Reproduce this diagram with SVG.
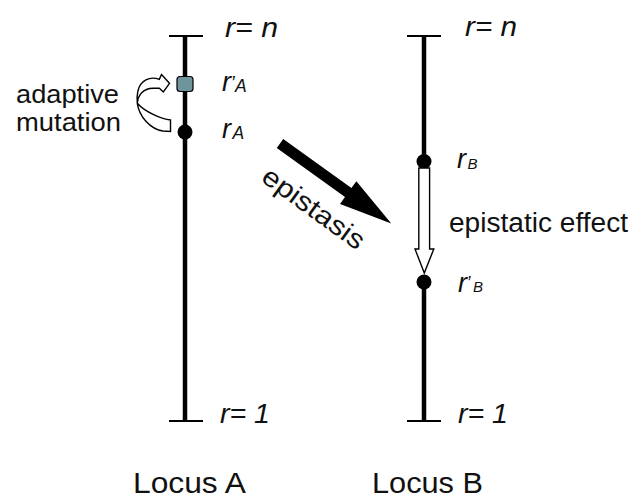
<svg xmlns="http://www.w3.org/2000/svg" width="631" height="500" viewBox="0 0 631 500">
  <style>
    .axis { stroke: #000; stroke-width: 4.5; fill: none; }
    .tick { stroke: #000; stroke-width: 2; fill: none; }
    .dot { fill: #000; }
    .lbl { font-family: "Liberation Sans", Arial, sans-serif; fill: #111; }
    .ri { font-family: "Liberation Sans", Arial, sans-serif; font-style: italic; fill: #111; font-size: 27px; }
    .hollow { fill: #fff; stroke: #000; stroke-width: 1.4; stroke-linejoin: miter; }
  </style>
  <rect width="631" height="500" fill="#fff"/>

  <g id="locusA">
    <line class="axis" x1="185" y1="36" x2="185" y2="421"/>
    <line class="tick" x1="169" y1="36" x2="203" y2="36"/>
    <line class="tick" x1="169" y1="421" x2="203" y2="421"/>
    <text class="ri" x="225" y="36.5" textLength="53" lengthAdjust="spacingAndGlyphs">r= n</text>
    <text class="ri" x="220" y="423" textLength="50" lengthAdjust="spacingAndGlyphs">r= 1</text>
    <text class="lbl" x="133" y="493" font-size="29" textLength="113" lengthAdjust="spacingAndGlyphs">Locus A</text>
  </g>

  <g id="rA-prime">
    <rect x="177" y="76.5" width="16" height="15" rx="3" fill="#6e959b" stroke="#000" stroke-width="1.2"/>
    <text class="ri" x="222" y="91">r<tspan x="230.5" y="89" font-size="19">’</tspan><tspan x="235" y="92" font-size="17.5">A</tspan></text>
  </g>

  <g id="rA">
    <circle class="dot" cx="185" cy="132" r="7.5"/>
    <text class="ri" x="222" y="138">r<tspan x="232.5" y="138.5" font-size="17.5">A</tspan></text>
  </g>

  <g id="adaptive-mutation-label">
    <text class="lbl" x="16" y="102.5" font-size="26" textLength="103" lengthAdjust="spacingAndGlyphs">adaptive</text>
    <text class="lbl" x="16" y="130.5" font-size="26" textLength="105" lengthAdjust="spacingAndGlyphs">mutation</text>
  </g>

  <g id="locusB">
    <line class="axis" x1="424" y1="36" x2="424" y2="162"/>
    <line class="axis" x1="424" y1="282" x2="424" y2="421"/>
    <line class="tick" x1="407" y1="36" x2="441" y2="36"/>
    <line class="tick" x1="407" y1="421" x2="441" y2="421"/>
    <text class="ri" x="465" y="36" textLength="52" lengthAdjust="spacingAndGlyphs">r= n</text>
    <text class="ri" x="458" y="423" textLength="50" lengthAdjust="spacingAndGlyphs">r= 1</text>
    <text class="lbl" x="372" y="493" font-size="29" textLength="111" lengthAdjust="spacingAndGlyphs">Locus B</text>
  </g>

  <g id="rB">
    <circle class="dot" cx="424" cy="161.5" r="7.5"/>
    <text class="ri" x="457" y="168">r<tspan x="467.5" y="168.5" font-size="15">B</tspan></text>
  </g>

  <g id="rB-prime">
    <circle class="dot" cx="424" cy="282" r="7.5"/>
    <text class="ri" x="458" y="291.5">r<tspan x="466.5" y="288.5" font-size="18">’</tspan><tspan x="473" y="291.5" font-size="15">B</tspan></text>
  </g>

  <g id="connectors">
    <!-- adaptive mutation curved hollow arrow -->
    <path class="hollow" d="M169.5,83.3 L161.5,74.5 L159.3,79.3 C150,76 140,80 137.8,91.5 C136.8,96 137,100 137.3,103.3 C139,116 150,129 163,131 L170.5,131.5 L170.5,120 C162,119.5 145,112 137.3,103.3 C138,95 143,88.5 153,88.3 L159.3,88.3 L163.3,92 Z"/>
    <!-- epistasis arrow -->
    <g id="epistasis-arrow" transform="translate(280,143.5) rotate(35.7)">
      <polygon fill="#000" points="0,-5.5 84,-5.5 84,-14 137,0 84,14 84,5.5 0,5.5"/>
    </g>
    <text class="lbl" font-size="27" transform="translate(259.8,180.3) rotate(36)" textLength="120" lengthAdjust="spacingAndGlyphs">epistasis</text>
    <!-- epistatic effect hollow arrow -->
    <path class="hollow" d="M418.8,168 L418.8,249 L415,249 L424.3,273 L433.8,249 L429.6,249 L429.6,168 Z"/>
    <text class="lbl" x="449" y="232" font-size="27" textLength="179" lengthAdjust="spacingAndGlyphs">epistatic effect</text>
  </g>
</svg>
